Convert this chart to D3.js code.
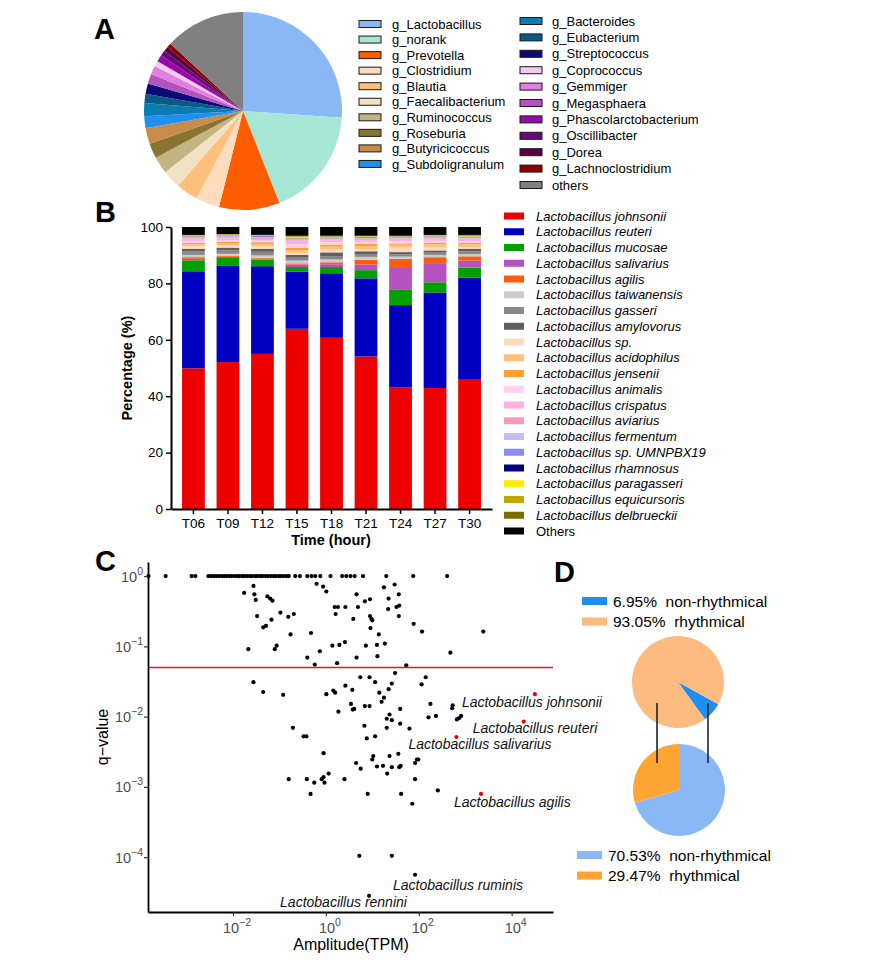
<!DOCTYPE html>
<html><head><meta charset="utf-8">
<script src="https://cdn.jsdelivr.net/npm/d3@7"></script>
<style>
body{margin:0;background:#fff}
svg{display:block}
text{font-family:"Liberation Sans",Arial,Helvetica,sans-serif;white-space:pre}
</style>
</head><body>
<svg id="c" width="896" height="963"></svg>
<script>
// ---------------- DATA ----------------
// Panel A: genus composition (%)
const genusNames = ["g_Lactobacillus","g_norank","g_Prevotella","g_Clostridium","g_Blautia","g_Faecalibacterium","g_Ruminococcus","g_Roseburia","g_Butyricicoccus","g_Subdoligranulum","g_Bacteroides","g_Eubacterium","g_Streptococcus","g_Coprococcus","g_Gemmiger","g_Megasphaera","g_Phascolarctobacterium","g_Oscillibacter","g_Dorea","g_Lachnoclostridium","others"];
const genusShare = [26.1,17.9,9.9,3.9,3.6,3.0,2.75,2.5,2.55,1.95,2.15,1.5,1.7,0.9,1.4,1.6,1.1,0.9,0.8,0.7,13.1];
const genusColors = ["#8ab8f6","#a8e6d6","#ff5c00","#ffdcbc","#ffc07e","#f0e2c2","#c4b482","#8a7432","#c88c48","#2090f0","#0a7cb2","#0a5a88","#0a0a78","#f2caf2","#e080e2","#b452c0","#9a0aaa","#6a0a7a","#5a0042","#8c0000","#808080"];
const genusPieOrder = [0,1,2,3,4,5,6,7,8,9,10,11,12,15,14,13,16,17,18,19,20];

// Panel B: Lactobacillus species (%) per time point
const times = ["T06","T09","T12","T15","T18","T21","T24","T27","T30"];
const speciesNames = ["Lactobacillus johnsonii","Lactobacillus reuteri","Lactobacillus mucosae","Lactobacillus salivarius","Lactobacillus agilis","Lactobacillus taiwanensis","Lactobacillus gasseri","Lactobacillus amylovorus","Lactobacillus sp.","Lactobacillus acidophilus","Lactobacillus jensenii","Lactobacillus animalis","Lactobacillus crispatus","Lactobacillus aviarius","Lactobacillus fermentum","Lactobacillus sp. UMNPBX19","Lactobacillus rhamnosus","Lactobacillus paragasseri","Lactobacillus equicursoris","Lactobacillus delbrueckii","Others"];
const speciesColors = ["#ee0000","#0000c0","#00a000","#b452c0","#ff5c10","#cccccc","#888888","#606060","#ffdcbc","#ffc080","#ffa030","#ffd0f0","#ffb0e0","#ff98c0","#c0c0f8","#8a8af0","#000078","#ffee00","#c0a800","#7a6a00","#000000"];
const johnsonii    = [49.9,52.1,55.0,63.9,60.7,54.1,43.2,42.9,46.1];
const reuteri      = [34.4,34.1,31.1,20.3,22.9,27.7,29.1,33.9,36.0];
const mucosae      = [3.9,2.8,2.3,1.6,2.2,2.9,5.6,3.6,3.5];
const salivarius   = [0.5,0.4,0.4,0.9,1.0,2.0,7.9,6.5,2.5];
const agilis       = [0.6,0.3,0.3,0.4,0.7,1.7,2.9,2.4,1.5];
const taiwanensis  = [0.8,0.8,0.8,1.0,1.0,1.0,0.8,0.8,0.8];
const gasseri      = [1.2,1.2,1.3,1.0,1.2,1.0,0.8,0.8,1.0];
const amylovorus   = [1.0,1.0,1.1,1.0,1.3,1.0,0.8,0.8,0.9];
const lacSp        = [0.9,0.8,0.8,0.7,1.0,0.8,1.8,1.2,0.6];
const acidophilus  = [0.7,0.8,0.9,1.0,1.0,1.0,0.8,1.0,0.9];
const jensenii     = [0.5,0.5,0.6,0.8,0.8,0.8,0.5,0.6,0.6];
const animalis     = [0.7,0.6,0.6,1.2,0.8,0.7,0.7,0.6,0.6];
const crispatus    = [0.5,0.5,0.5,1.0,0.6,0.6,0.6,0.5,0.5];
const aviarius     = [0.4,0.4,0.4,0.5,0.4,0.4,0.4,0.4,0.4];
const fermentum    = [0.3,0.3,0.3,0.3,0.3,0.3,0.3,0.3,0.3];
const umnpbx19     = [0.3,0.3,0.3,0.3,0.3,0.3,0.3,0.3,0.3];
const rhamnosus    = [0.1,0.1,0.1,0.1,0.1,0.1,0.1,0.1,0.1];
const paragasseri  = [0.2,0.2,0.2,0.4,0.2,0.2,0.1,0.2,0.2];
const equicursoris = [0.2,0.2,0.1,0.3,0.2,0.2,0.1,0.2,0.2];
const delbrueckii  = [0.1,0.1,0.1,0.2,0.2,0.1,0.1,0.1,0.2];
const othersB      = [2.8,2.5,2.8,3.1,3.1,3.1,3.1,2.8,2.8];
const speciesSeries = [johnsonii,reuteri,mucosae,salivarius,agilis,taiwanensis,gasseri,amylovorus,lacSp,acidophilus,jensenii,animalis,crispatus,aviarius,fermentum,umnpbx19,rhamnosus,paragasseri,equicursoris,delbrueckii,othersB];
const percentTicks = [0,20,40,60,80,100];

// Panel C: rhythmicity test, log10(amplitude, TPM) and log10(q-value)
const q1RowAmpLog10 = [-3.82,-3.45,-2.89,-2.81,
 -2.53,-2.47,-2.41,-2.36,-2.30,-2.24,-2.19,-2.14,-2.08,-2.03,-1.97,-1.91,-1.86,-1.80,-1.75,-1.69,
 -1.63,-1.58,-1.52,-1.47,-1.41,-1.36,-1.30,-1.25,-1.19,-1.13,-1.08,-1.02,-0.97,-0.91,-0.85,-0.80,
 -0.66,-0.56,-0.40,-0.31,-0.23,-0.12,0.10,0.35,0.44,0.53,0.62,0.80,1.30,1.88,2.61];
const ampLog10 = [-1.56,-1.76,-1.54,-1.51,-1.26,-1.20,-1.15,-0.20,-0.06,0.01,
 0.66,1.25,1.48,1.57,0.95,0.84,1.35,0.19,0.26,0.42,
 0.69,0.21,1.34,1.52,1.58,1.57,-0.98,-0.81,-0.69,-1.48,
 -1.17,0.59,0.95,0.98,1.00,-1.35,-1.29,-0.76,-0.32,0.96,
 1.14,1.89,2.07,-1.67,-1.06,-1.10,0.14,0.29,0.41,-0.13,
 0.86,1.10,1.27,-0.40,0.66,1.11,2.68,-0.24,0.24,1.73,
 3.39,
 -1.56,-1.35,-0.92,-0.71,-0.48,-0.42,0.01,0.16,0.20,0.42,
 0.57,0.74,0.94,1.06,1.49,1.42,1.35,1.15,1.25,1.20,
 2.15,2.06,0.54,0.27,0.58,0.61,0.84,0.94,1.37,1.31,
 1.42,1.60,1.60,1.31,1.80,2.25,2.21,2.37,2.73,2.72,
 2.82,2.87,2.91,0.83,0.88,1.06,-0.05,1.02,1.00,1.37,
 1.56,0.65,0.75,1.10,1.23,1.42,1.58,1.61,1.32,1.96,
 1.92,1.99,-0.80,-0.41,-0.25,-0.09,-0.03,-0.05,0.06,0.40,
 1.92,-0.33,0.90,1.62,2.41,1.86,0.72,1.42];
const qLog10 = [-0.14,-0.24,-0.26,-0.34,-0.29,-0.32,-0.35,-0.11,-0.15,-0.22,
 -0.26,-0.16,-0.12,-0.26,-0.33,-0.36,-0.32,-0.44,-0.44,-0.44,
 -0.44,-0.54,-0.47,-0.44,-0.42,-0.57,-0.52,-0.58,-0.54,-0.57,
 -0.62,-0.61,-0.57,-0.61,-0.63,-0.73,-0.71,-0.83,-0.81,-0.74,
 -0.83,-0.68,-0.79,-1.04,-0.99,-1.04,-0.99,-0.98,-0.94,-1.07,
 -0.99,-0.98,-0.96,-1.16,-1.16,-1.14,-1.09,-1.26,-1.24,-1.27,
 -0.79,
 -1.51,-1.65,-1.69,-2.16,-2.28,-2.28,-1.68,-1.63,-1.66,-1.56,
 -1.62,-1.44,-1.44,-1.51,-1.38,-1.53,-1.61,-1.66,-1.73,-1.79,
 -1.44,-1.54,-1.82,-1.93,-1.90,-1.89,-1.85,-1.85,-1.97,-2.03,
 -2.05,-1.89,-2.10,-2.16,-2.17,-1.82,-2.01,-1.99,-1.84,-1.88,
 -2.04,-2.02,-1.99,-2.13,-2.31,-2.28,-2.52,-2.56,-2.61,-2.56,
 -2.53,-2.66,-2.74,-2.71,-2.70,-2.72,-2.72,-2.70,-2.81,-2.61,
 -2.66,-2.61,-2.89,-2.89,-2.94,-2.89,-2.94,-2.86,-2.81,-2.89,
 -2.89,-3.10,-3.10,-3.10,-3.05,-3.24,-3.98,-3.98];
const labelSpecies = ["Lactobacillus johnsonii","Lactobacillus reuteri","Lactobacillus salivarius","Lactobacillus agilis","Lactobacillus ruminis","Lactobacillus rennini"];
const labelAmpLog10 = [4.50,4.26,2.81,3.34,1.92,0.93];
const labelQLog10 = [-1.68,-2.07,-2.29,-3.10,-4.25,-4.55];
const labelHighlighted = [true,true,true,true,false,false];
const qThreshold = 0.05;
const ampTickExp = [-2,0,2,4];
const qTickExp = [0,-1,-2,-3,-4];

// Panel D
const topPieLabels = ["non-rhythmical","rhythmical"];
const topPieValues = [6.95,93.05];
const bottomPieLabels = ["non-rhythmical","rhythmical"];
const bottomPieValues = [70.53,29.47];

// ---------------- DRAW ----------------
const svg = d3.select("#c");

// panel letters
[["A",94,39],["B",95,222],["C",95,571],["D",554,582]].forEach(([t,x,y])=>{
  svg.append("text").attr("x",x).attr("y",y).attr("font-size",29).attr("font-weight","bold").text(t);
});

// ----- Panel A -----
{
  const g = svg.append("g").attr("transform","translate(243,111)");
  const items = genusPieOrder.map(i=>({v:genusShare[i], c:genusColors[i]}));
  const pie = d3.pie().sort(null).value(d=>d.v);
  const arc = d3.arc().innerRadius(0).outerRadius(99);
  g.selectAll("path").data(pie(items)).join("path").attr("d",arc).attr("fill",d=>d.data.c);

  genusNames.forEach((n,i)=>{
    const col = i<10?0:1, r = col?i-10:i;
    const cy = col? 21+r*16.4 : 24+r*15.55;
    svg.append("rect").attr("x",col?520:359).attr("y",cy-3.5).attr("width",22).attr("height",7)
      .attr("fill",genusColors[i]).attr("stroke","#1a1a1a").attr("stroke-width",1);
    svg.append("text").attr("x",col?552:392).attr("y",cy).attr("dy","0.36em").attr("font-size",13).text(n);
  });
}

// ----- Panel B -----
{
  const x = d3.scaleBand().domain(times).range([171,492]).paddingInner(0.34).paddingOuter(0.32);
  const y = d3.scaleLinear().domain([0,100]).range([509,227]);
  const rows = times.map((t,j)=>{const o={time:t}; speciesNames.forEach((s,k)=>o[s]=speciesSeries[k][j]); return o;});
  const stack = d3.stack().keys(speciesNames)(rows);
  const g = svg.append("g");
  stack.forEach((layer,k)=>{
    g.selectAll(null).data(layer).join("rect")
      .attr("x",d=>x(d.data.time)).attr("width",x.bandwidth())
      .attr("y",d=>y(d[1])).attr("height",d=>y(d[0])-y(d[1]))
      .attr("fill",speciesColors[k]);
  });
  const ya = svg.append("g").attr("transform","translate(171,0)")
    .call(d3.axisLeft(y).tickValues(percentTicks).tickSize(5).tickSizeOuter(0).tickPadding(3));
  const xa = svg.append("g").attr("transform","translate(0,509)")
    .call(d3.axisBottom(x).tickSize(5).tickSizeOuter(0).tickPadding(4));
  [ya,xa].forEach(a=>{
    a.select(".domain").attr("stroke","#000").attr("stroke-width",2);
    a.selectAll(".tick line").attr("stroke","#000").attr("stroke-width",1.5);
    a.selectAll("text").attr("font-size",13.5).attr("fill","#000").attr("font-family",'"Liberation Sans",Arial,sans-serif');
  });
  svg.append("text").attr("transform","translate(132,368) rotate(-90)").attr("text-anchor","middle")
    .attr("font-size",14.5).attr("font-weight","bold").text("Percentage (%)");
  svg.append("text").attr("x",331).attr("y",545).attr("text-anchor","middle")
    .attr("font-size",14.5).attr("font-weight","bold").text("Time (hour)");
  speciesNames.forEach((n,i)=>{
    const cy = 216 + i*15.75;
    svg.append("rect").attr("x",504).attr("y",cy-3.5).attr("width",20).attr("height",7).attr("fill",speciesColors[i]);
    svg.append("text").attr("x",536).attr("y",cy).attr("dy","0.36em").attr("font-size",13)
      .attr("font-style",n==="Others"?"normal":"italic").text(n);
  });
}

// ----- Panel C -----
{
  const x = d3.scaleLog().domain([Math.pow(10,-3.83),Math.pow(10,4.89)]).range([148,553]);
  const y = d3.scaleLog().domain([Math.pow(10,-4.78),Math.pow(10,0.2)]).range([912,562]);
  const pts = q1RowAmpLog10.map(a=>({a:Math.pow(10,a), q:1}))
    .concat(ampLog10.map((a,i)=>({a:Math.pow(10,a), q:Math.pow(10,qLog10[i])})));
  const g = svg.append("g");
  g.selectAll("circle.p").data(pts).join("circle").attr("class","p")
    .attr("cx",d=>x(d.a)).attr("cy",d=>y(d.q)).attr("r",2.1).attr("fill","#000");
  // threshold
  g.append("line").attr("x1",148).attr("x2",553).attr("y1",y(qThreshold)).attr("y2",y(qThreshold))
    .attr("stroke","#ee1111").attr("stroke-width",1.5);
  // labelled points
  const labOff = [[-73,13],[-51,11],[-48,12],[-27,13],[-22,15],[-89,11]];
  labelSpecies.forEach((n,i)=>{
    const px = x(Math.pow(10,labelAmpLog10[i])), py = y(Math.pow(10,labelQLog10[i]));
    g.append("circle").attr("cx",px).attr("cy",py).attr("r",2.1).attr("fill",labelHighlighted[i]?"#ee0000":"#000");
    g.append("text").attr("x",px+labOff[i][0]).attr("y",py+labOff[i][1]).attr("font-size",14)
      .attr("font-style","italic").attr("fill","#111").text(n);
  });
  // axes
  const xa = svg.append("g").attr("transform","translate(0,912)")
    .call(d3.axisBottom(x).tickValues(ampTickExp.map(e=>Math.pow(10,e))).tickFormat("").tickSize(4).tickSizeOuter(0));
  const ya = svg.append("g").attr("transform","translate(148,0)")
    .call(d3.axisLeft(y).tickValues(qTickExp.map(e=>Math.pow(10,e))).tickFormat("").tickSize(4).tickSizeOuter(0));
  [xa,ya].forEach(a=>{
    a.select(".domain").attr("stroke","#000").attr("stroke-width",1.8);
    a.selectAll(".tick line").attr("stroke","#333").attr("stroke-width",1.2);
  });
  const sup = (t,e)=>{
    t.append("tspan").text("10");
    t.append("tspan").attr("dy",-7).attr("font-size",10.5).text(e<0?"\u2212"+(-e):String(e));
  };
  ampTickExp.forEach(e=>{
    const t = svg.append("text").attr("x",x(Math.pow(10,e))+4).attr("y",933).attr("text-anchor","middle")
      .attr("font-size",14.5).attr("fill","#4d4d4d");
    sup(t,e);
  });
  qTickExp.forEach(e=>{
    const t = svg.append("text").attr("x",143).attr("y",y(Math.pow(10,e))+5.5).attr("text-anchor","end")
      .attr("font-size",14.5).attr("fill","#4d4d4d");
    sup(t,e);
  });
  svg.append("text").attr("x",351).attr("y",950).attr("text-anchor","middle").attr("font-size",16).text("Amplitude(TPM)");
  svg.append("text").attr("transform","translate(108,737) rotate(-90)").attr("text-anchor","middle").attr("font-size",16).text("q\u2212value");
}

// ----- Panel D -----
{
  const topColors = ["#1e8ff0","#fdbb80"];
  const botColors = ["#8ab8f6","#ffa533"];
  const arc = d3.arc().innerRadius(0).outerRadius(46);
  const a0 = 119*Math.PI/180;
  const pieTop = d3.pie().sort(null).startAngle(a0).endAngle(a0+2*Math.PI);
  const gt = svg.append("g").attr("transform","translate(678,682)");
  gt.selectAll("path").data(pieTop(topPieValues)).join("path").attr("d",arc).attr("fill",(d,i)=>topColors[i]);
  const pieBot = d3.pie().sort(null);
  const gb = svg.append("g").attr("transform","translate(679,790)");
  gb.selectAll("path").data(pieBot(bottomPieValues)).join("path").attr("d",arc).attr("fill",(d,i)=>botColors[i]);
  [657,708].forEach(xx=>svg.append("line").attr("x1",xx).attr("x2",xx).attr("y1",703).attr("y2",763)
    .attr("stroke","#222").attr("stroke-width",1.6));
  const fmt = v=>v.toFixed(2)+"%\u00a0\u00a0";
  topPieLabels.forEach((n,i)=>{
    const cy = 601 + i*20.5;
    svg.append("rect").attr("x",582).attr("y",cy-4).attr("width",25).attr("height",8).attr("fill",topColors[i]);
    svg.append("text").attr("x",613).attr("y",cy).attr("dy","0.36em").attr("font-size",15.5).text(fmt(topPieValues[i])+n);
  });
  bottomPieLabels.forEach((n,i)=>{
    const cy = 855 + i*20.5;
    svg.append("rect").attr("x",577).attr("y",cy-4).attr("width",25).attr("height",8).attr("fill",botColors[i]);
    svg.append("text").attr("x",608).attr("y",cy).attr("dy","0.36em").attr("font-size",15.5).text(fmt(bottomPieValues[i])+n);
  });
}
</script>
</body></html>
